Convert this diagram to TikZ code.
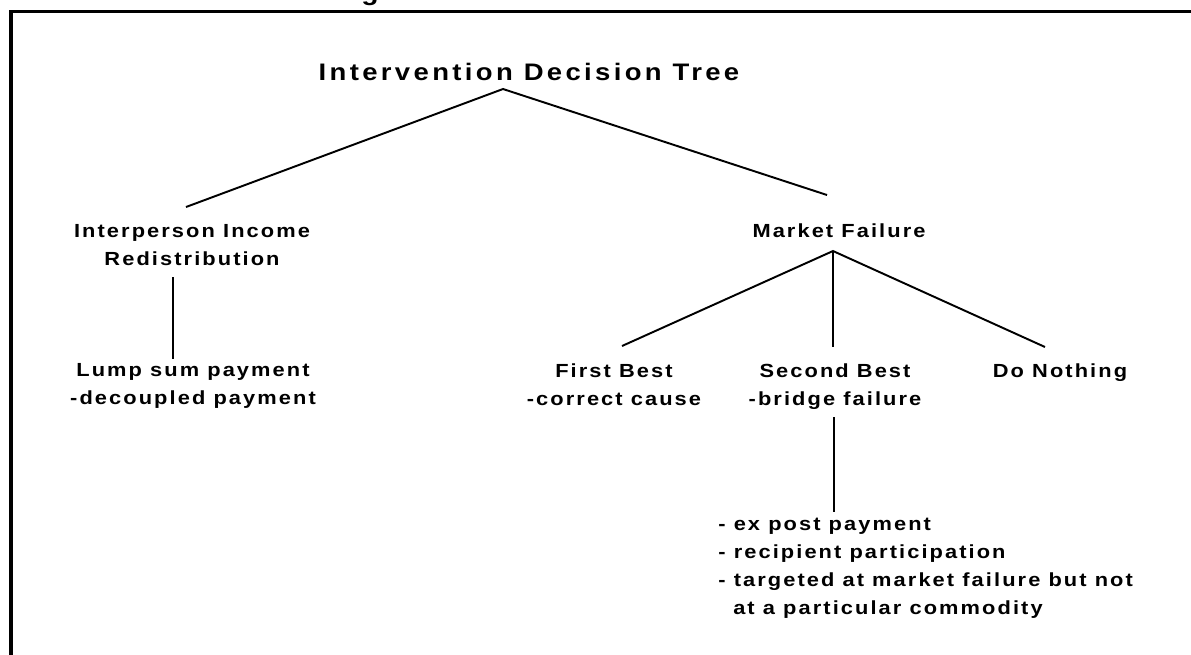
\documentclass[tikz,border=0pt]{standalone}
\usepackage{fontspec}
\setmainfont{Liberation Sans}
\newfontfamily\lsp{Liberation Sans}[LetterSpace=11, FakeStretch=1.15, UprightFont={* Bold}, BoldFont={* Bold}]
\newfontfamily\lspt{Liberation Sans}[LetterSpace=14, FakeStretch=1.15, UprightFont={* Bold}, BoldFont={* Bold}]
\begin{document}
\begin{tikzpicture}[x=0.02cm,y=-0.02cm,
  lab/.style={font=\lsp\bfseries\fontsize{10.8}{15.9}\selectfont, inner sep=0pt, align=center, anchor=base},
  conn/.style={line width=1.1pt},
  frameline/.style={line width=2pt}]
\useasboundingbox (0,0) rectangle (1191,654);
% frame
\draw[frameline] (1195,11.5) -- (11,11.5) -- (11,660);
% cut-off text at the top
\node[font=\lspt\bfseries\fontsize{14}{16}\selectfont, inner sep=0pt, anchor=base] (topg) at (370,0) {g};
% nodes
\node[font=\lspt\bfseries\fontsize{13.6}{16}\selectfont, inner sep=0pt, anchor=base] (title) at (529,80) {Intervention Decision Tree};
\node[lab] (iir) at (192,265) {Interperson Income\\Redistribution};
\node[lab] (mf) at (839,237) {Market Failure};
\node[lab] (lump) at (193,404) {Lump sum payment\\-decoupled payment};
\node[lab] (fb) at (614,405) {First Best\\-correct cause};
\node[lab] (sb) at (835,405) {Second Best\\-bridge failure};
\node[lab] (dn) at (1060,377) {Do Nothing};
\node[lab, align=left, anchor=base west] (list) at (718,614) {- ex post payment\\- recipient participation\\- targeted at market failure but not\\\hspace*{8.5pt}at a particular commodity};
% junction points
\coordinate (tJ) at (503,89);
\coordinate (iirT) at (186,207);
\coordinate (mfT) at (827,195);
\coordinate (iirB) at (173,277);
\coordinate (lumpT) at (173,359);
\coordinate (mfJ) at (833,251);
\coordinate (fbT) at (622,346);
\coordinate (sbT) at (833,347);
\coordinate (dnT) at (1045,347);
\coordinate (sbB) at (834,417);
\coordinate (listT) at (834,512);
% connectors
\draw[conn] (iirT) -- (tJ) -- (mfT);
\draw[conn] (iirB) -- (lumpT);
\draw[conn] (fbT) -- (mfJ) -- (dnT);
\draw[conn] (mfJ) -- (sbT);
\draw[conn] (sbB) -- (listT);
\end{tikzpicture}
\end{document}
